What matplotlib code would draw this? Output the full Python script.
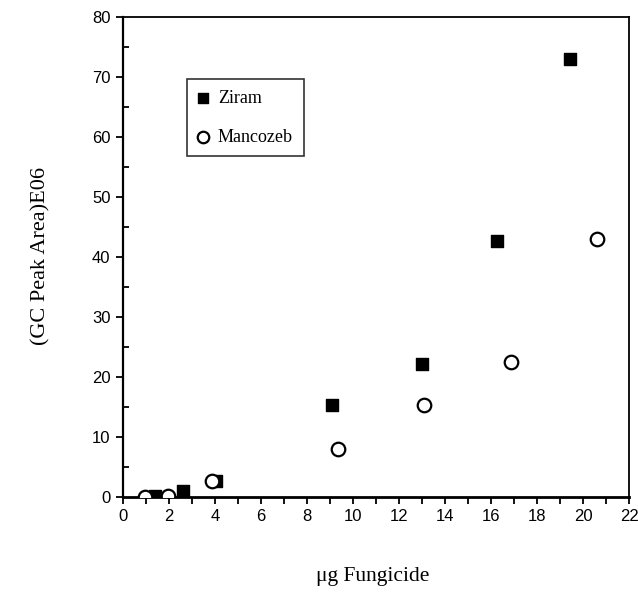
import matplotlib
matplotlib.use("Agg")
import matplotlib.pyplot as plt
from matplotlib.ticker import MultipleLocator

ziram_x = [1.4, 2.6, 4.05, 9.1, 13.0, 16.25, 19.45]
ziram_y = [0.2, 1.0, 2.6, 15.4, 22.1, 42.6, 73.0]
manco_x = [0.95, 1.95, 3.85, 9.35, 13.1, 16.85, 20.6]
manco_y = [0.0, 0.1, 2.7, 8.0, 15.3, 22.5, 43.0]

fig = plt.figure(figsize=(6.38, 5.94), dpi=100)
ax = fig.add_axes([0.1928, 0.1633, 0.7932, 0.808])

ax.scatter(ziram_x, ziram_y, marker="s", s=78, color="black", zorder=3, label="Ziram")
ax.scatter(manco_x, manco_y, marker="o", s=95, facecolor="white", edgecolor="black",
           linewidths=1.6, zorder=4, label="Mancozeb")

ax.set_xlim(0, 22)
ax.set_ylim(0, 80)
ax.xaxis.set_major_locator(MultipleLocator(2))
ax.xaxis.set_minor_locator(MultipleLocator(1))
ax.yaxis.set_major_locator(MultipleLocator(10))
ax.yaxis.set_minor_locator(MultipleLocator(5))

ax.tick_params(axis="both", which="major", direction="out", length=5, width=1.3,
               labelsize=12, colors="black", pad=4)
ax.tick_params(axis="x", which="minor", direction="out", length=5, width=1.3)
ax.tick_params(axis="y", which="minor", direction="in", length=4, width=1.3)
for lab in ax.get_xticklabels() + ax.get_yticklabels():
    lab.set_family("Liberation Sans")

for sp in ax.spines.values():
    sp.set_linewidth(1.3)
ax.spines["bottom"].set_linewidth(2)
ax.spines["left"].set_linewidth(1.6)

fig.text(373/638, 1-576/594, "\u03bcg Fungicide", ha="center", va="center",
         family="Liberation Serif", fontsize=15.5)
fig.text(41/638, 1-256/594, "(GC Peak Area)E06", ha="center", va="center",
         rotation=90, family="Liberation Serif", fontsize=16)

leg = fig.legend(loc="upper left", bbox_to_anchor=(187/638, 1-79/594),
                 borderaxespad=0, frameon=True, fancybox=False, edgecolor="black",
                 prop={"family": "Liberation Serif", "size": 13},
                 handletextpad=0.5, labelspacing=1.2, borderpad=0.6,
                 handlelength=0.6, markerscale=0.85)
leg.get_frame().set_linewidth(1.2)

fig.savefig("out.png", dpi=100, facecolor="white")
